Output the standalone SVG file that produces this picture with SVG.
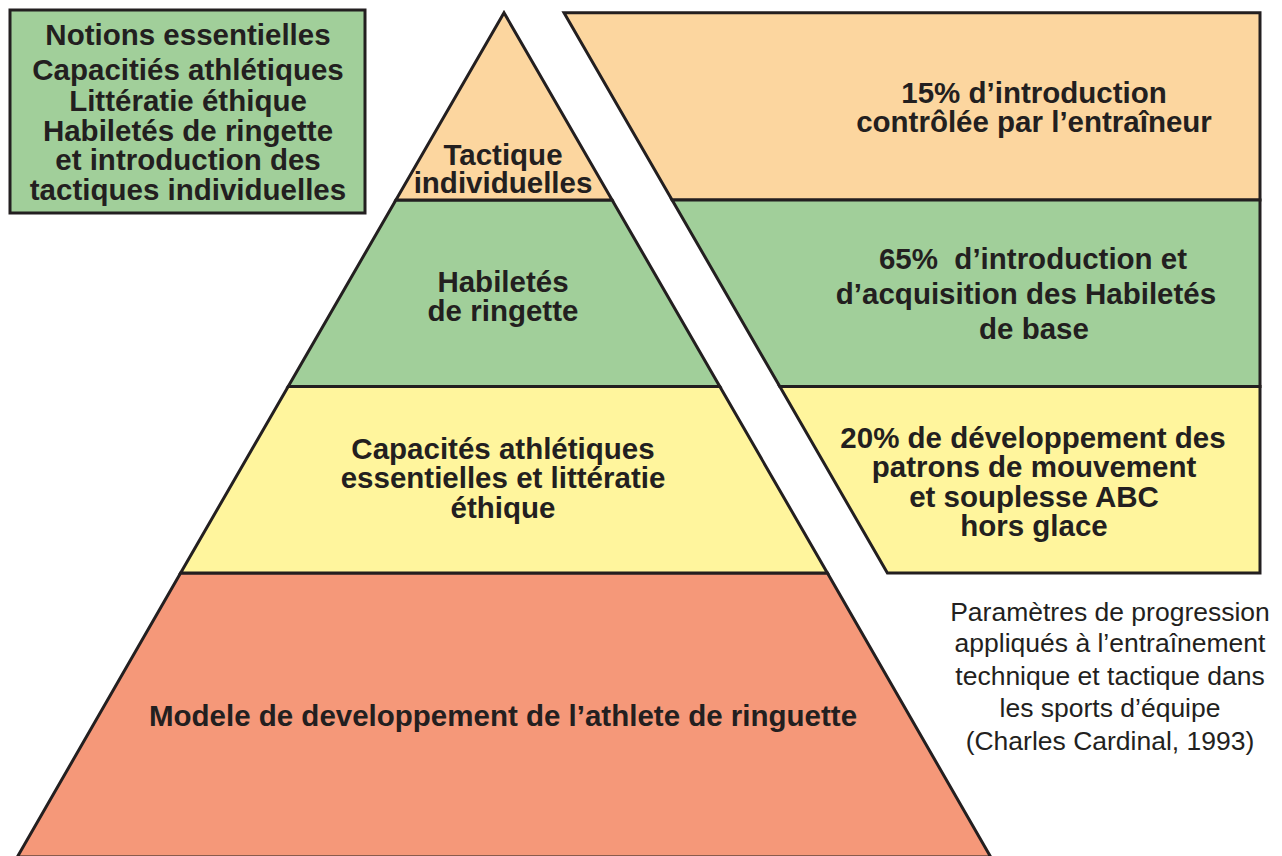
<svg xmlns="http://www.w3.org/2000/svg" width="1282" height="856" viewBox="0 0 1282 856">
<style>
.sh{stroke:#231f20;stroke-width:3;stroke-linejoin:miter}
.peach{fill:#fcd69f}
.green{fill:#a1cf9a}
.yellow{fill:#fff59d}
.salmon{fill:#f59879}
.b{font-family:"Liberation Sans",Arial,sans-serif;font-weight:bold;font-size:29.5px;fill:#231f20;text-anchor:middle}
.r{font-family:"Liberation Sans",Arial,sans-serif;font-size:26.5px;fill:#231f20;text-anchor:middle}
</style>
<rect width="1282" height="856" fill="#ffffff"/>
<g id="legend-box">
<rect class="sh green" x="10" y="10" width="355" height="203"/>
<text class="b" x="188" y="45">Notions essentielles</text>
<text class="b" x="188" y="80">Capacitiés athlétiques</text>
<text class="b" x="188" y="111">Littératie éthique</text>
<text class="b" x="188" y="141">Habiletés de ringette</text>
<text class="b" x="188" y="170">et introduction des</text>
<text class="b" x="188" y="200">tactiques individuelles</text>
</g>
<g id="pyr-base">
<polygon class="sh salmon" points="180.6,573 827.4,573 990.7,857 17.3,857"/>
<text class="b" x="503" y="726">Modele de developpement de l’athlete de ringuette</text>
</g>
<g id="pyr-capacites">
<polygon class="sh yellow" points="288.2,386.5 719.8,386.5 827.4,573 180.6,573"/>
<text class="b" x="503" y="459">Capacités athlétiques</text>
<text class="b" x="503" y="488">essentielles et littératie</text>
<text class="b" x="503" y="518">éthique</text>
</g>
<g id="pyr-habiletes">
<polygon class="sh green" points="395.9,200 612.1,200 719.8,386.5 288.2,386.5"/>
<text class="b" x="503" y="292">Habiletés</text>
<text class="b" x="503" y="321">de ringette</text>
</g>
<g id="pyr-tactique">
<polygon class="sh peach" points="504,12.7 612.1,200 395.9,200"/>
<text class="b" x="503" y="165">Tactique</text>
<text class="b" x="503" y="193">individuelles</text>
</g>
<g id="right-15">
<polygon class="sh peach" points="564,12.7 1260,12.7 1260,200 672.1,200"/>
<text class="b" x="1034" y="103">15% d’introduction</text>
<text class="b" x="1034" y="132">contrôlée par l’entraîneur</text>
</g>
<g id="right-65">
<polygon class="sh green" points="672.1,200 1260,200 1260,386.5 779.8,386.5"/>
<text class="b" x="1033" y="269" xml:space="preserve">65%  d’introduction et</text>
<text class="b" x="1026" y="304">d’acquisition des Habiletés</text>
<text class="b" x="1034" y="339">de base</text>
</g>
<g id="right-20">
<polygon class="sh yellow" points="779.8,386.5 1260,386.5 1260,573 887.4,573"/>
<text class="b" x="1033" y="448">20% de développement des</text>
<text class="b" x="1034" y="477">patrons de mouvement</text>
<text class="b" x="1034" y="507">et souplesse ABC</text>
<text class="b" x="1034" y="536">hors glace</text>
</g>
<g id="caption">
<text class="r" x="1110" y="621">Paramètres de progression</text>
<text class="r" x="1110" y="652">appliqués à l’entraînement</text>
<text class="r" x="1110" y="685">technique et tactique dans</text>
<text class="r" x="1110" y="717">les sports d’équipe</text>
<text class="r" x="1110" y="750">(Charles Cardinal, 1993)</text>
</g>
<g id="connectors"></g>
</svg>
